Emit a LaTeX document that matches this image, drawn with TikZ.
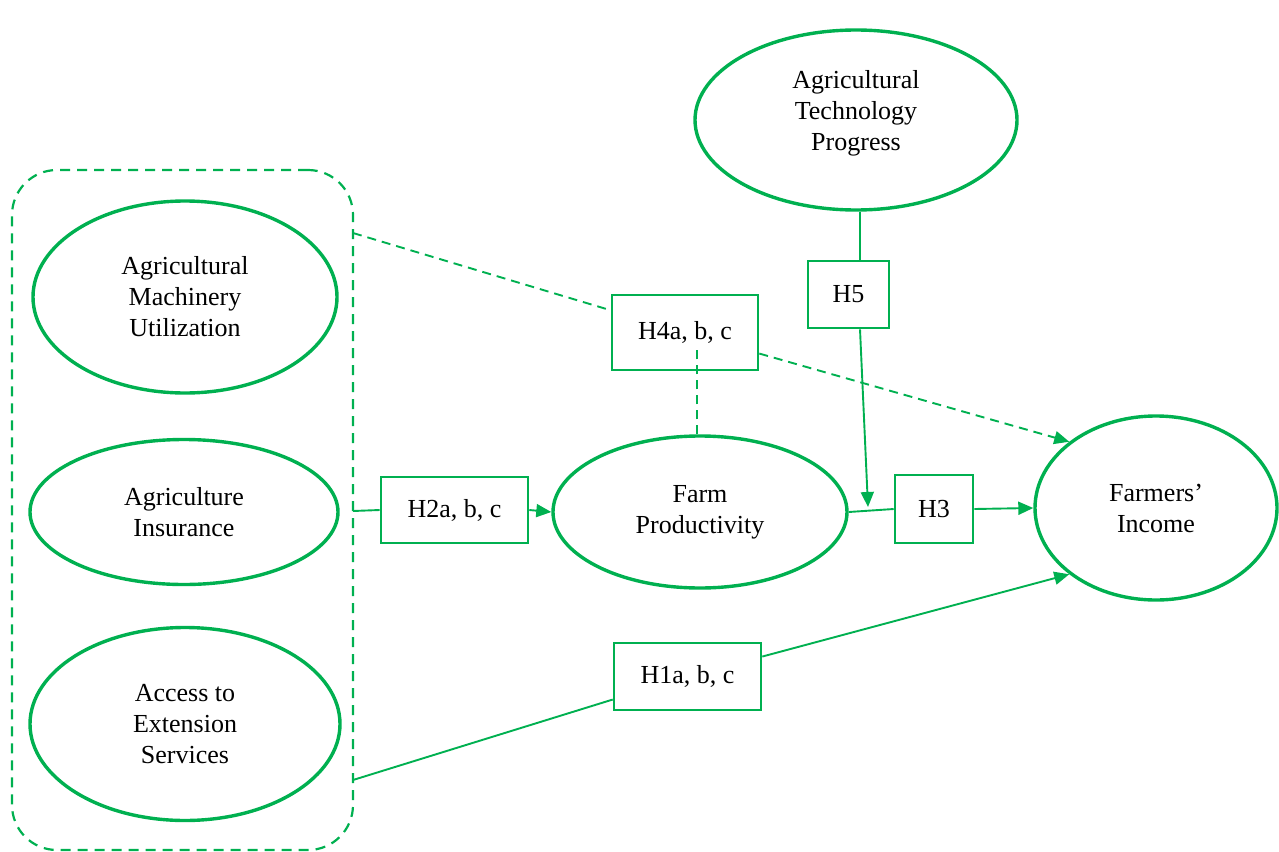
\documentclass[tikz,border=0pt]{standalone}
\usepackage{fontspec}
\setmainfont{Liberation Serif}
\usetikzlibrary{arrows.meta,positioning,calc,shapes.geometric}
\definecolor{leafgreen}{RGB}{0,176,80}
\tikzset{
  % latent constructs of the model
  construct/.style={ellipse, draw=leafgreen, line width=3.4pt, align=center, inner sep=0pt},
  % hypothesis labels sitting on the paths
  hypbox/.style={draw=leafgreen, fill=white, line width=2.6pt, align=center, inner sep=0pt},
  % grouping frame round the three drivers
  groupfrm/.style={draw=leafgreen, line width=2.2pt, rounded corners=45pt,
    dash pattern=on 10pt off 7pt},
  % structural paths
  pathln/.style={leafgreen, line width=1.9pt},
  patharr/.style={pathln, -{Triangle[length=15pt,width=13pt]}},
  dashln/.style={pathln, dash pattern=on 9pt off 6pt},
}

\begin{document}
\begin{tikzpicture}[x=1pt, y=-1pt, font=\fontsize{26}{31}\selectfont]
    \useasboundingbox (0,0) rectangle (1279,851);
    % grouping frame
    \node[groupfrm, minimum width=341pt, minimum height=680pt] (grp) at (182.5,510) {};
    \coordinate (g1) at (353,233);
    \coordinate (g2) at (353,511);
    \coordinate (g3) at (353,780);
    % constructs
    \node[construct, minimum width=304pt, minimum height=192pt] (amu) at (185,297)
      {Agricultural\\Machinery\\Utilization};
    \node[construct, minimum width=308pt, minimum height=145pt] (ins) at (184,512)
      {Agriculture\\Insurance};
    \node[construct, minimum width=310pt, minimum height=193pt] (ext) at (185,724)
      {Access to\\Extension\\Services};
    % text sits a little above the centre here
    \node[construct, minimum width=322pt, minimum height=180pt] (atp) at (856,120)
      {\raisebox{0pt}[\height][\dimexpr\depth+13pt\relax]{%
        \begin{tabular}{@{}c@{}}Agricultural\\Technology\\Progress\end{tabular}}};
    \node[construct, minimum width=294pt, minimum height=152pt] (fp) at (700,512)
      {Farm\\Productivity};
    \node[construct, minimum width=242pt, minimum height=184pt] (fi) at (1156,508)
      {Farmers’\\Income};
    % hypotheses
    \node[hypbox, minimum width=147pt, minimum height=66pt] (h2) at (454.5,510) {H2a, b, c};
    \node[hypbox, minimum width=78pt, minimum height=68pt] (h3) at (934,509) {H3};
    \node[hypbox, minimum width=81pt, minimum height=67pt] (h5) at (848.5,294.5) {H5};
    \node[hypbox, minimum width=146pt, minimum height=75pt] (h4) at (685,332.5) {H4a, b, c};
    \node[hypbox, minimum width=147pt, minimum height=67pt] (h1) at (687.5,676.5) {H1a, b, c};
    % direct and mediated paths
    \draw[pathln] (g2) -- (h2.west);
    \draw[patharr] (h2.east) -- (fp.west);
    \draw[pathln] (fp.east) -- (h3.west);
    \draw[patharr] (h3.east) -- (fi.west);
    \draw[pathln] (g3) -- (h1);
    \draw[patharr] (h1) -- (fi.south west);
    % moderation by technology progress
    \coordinate (h5top) at ([xshift=4pt]atp.south);
    \coordinate (h5tip) at (868,507);
    \draw[pathln] (h5top) -- (h5top |- h5.north);
    \draw[patharr] (h5.south -| h5top) -- (h5tip);
    % moderated mediation
    \coordinate (h4in) at ($(h4.center)+(0,12)$);
    \draw[dashln] (g1) -- (h4);
    \draw[dashln, -{Triangle[length=15pt,width=13pt]}] (h4) -- (fi.north west);
    \draw[dashln] ([xshift=-3pt]fp.north) -- ([xshift=-3pt]fp.north |- h4in);
\end{tikzpicture}
\end{document}
